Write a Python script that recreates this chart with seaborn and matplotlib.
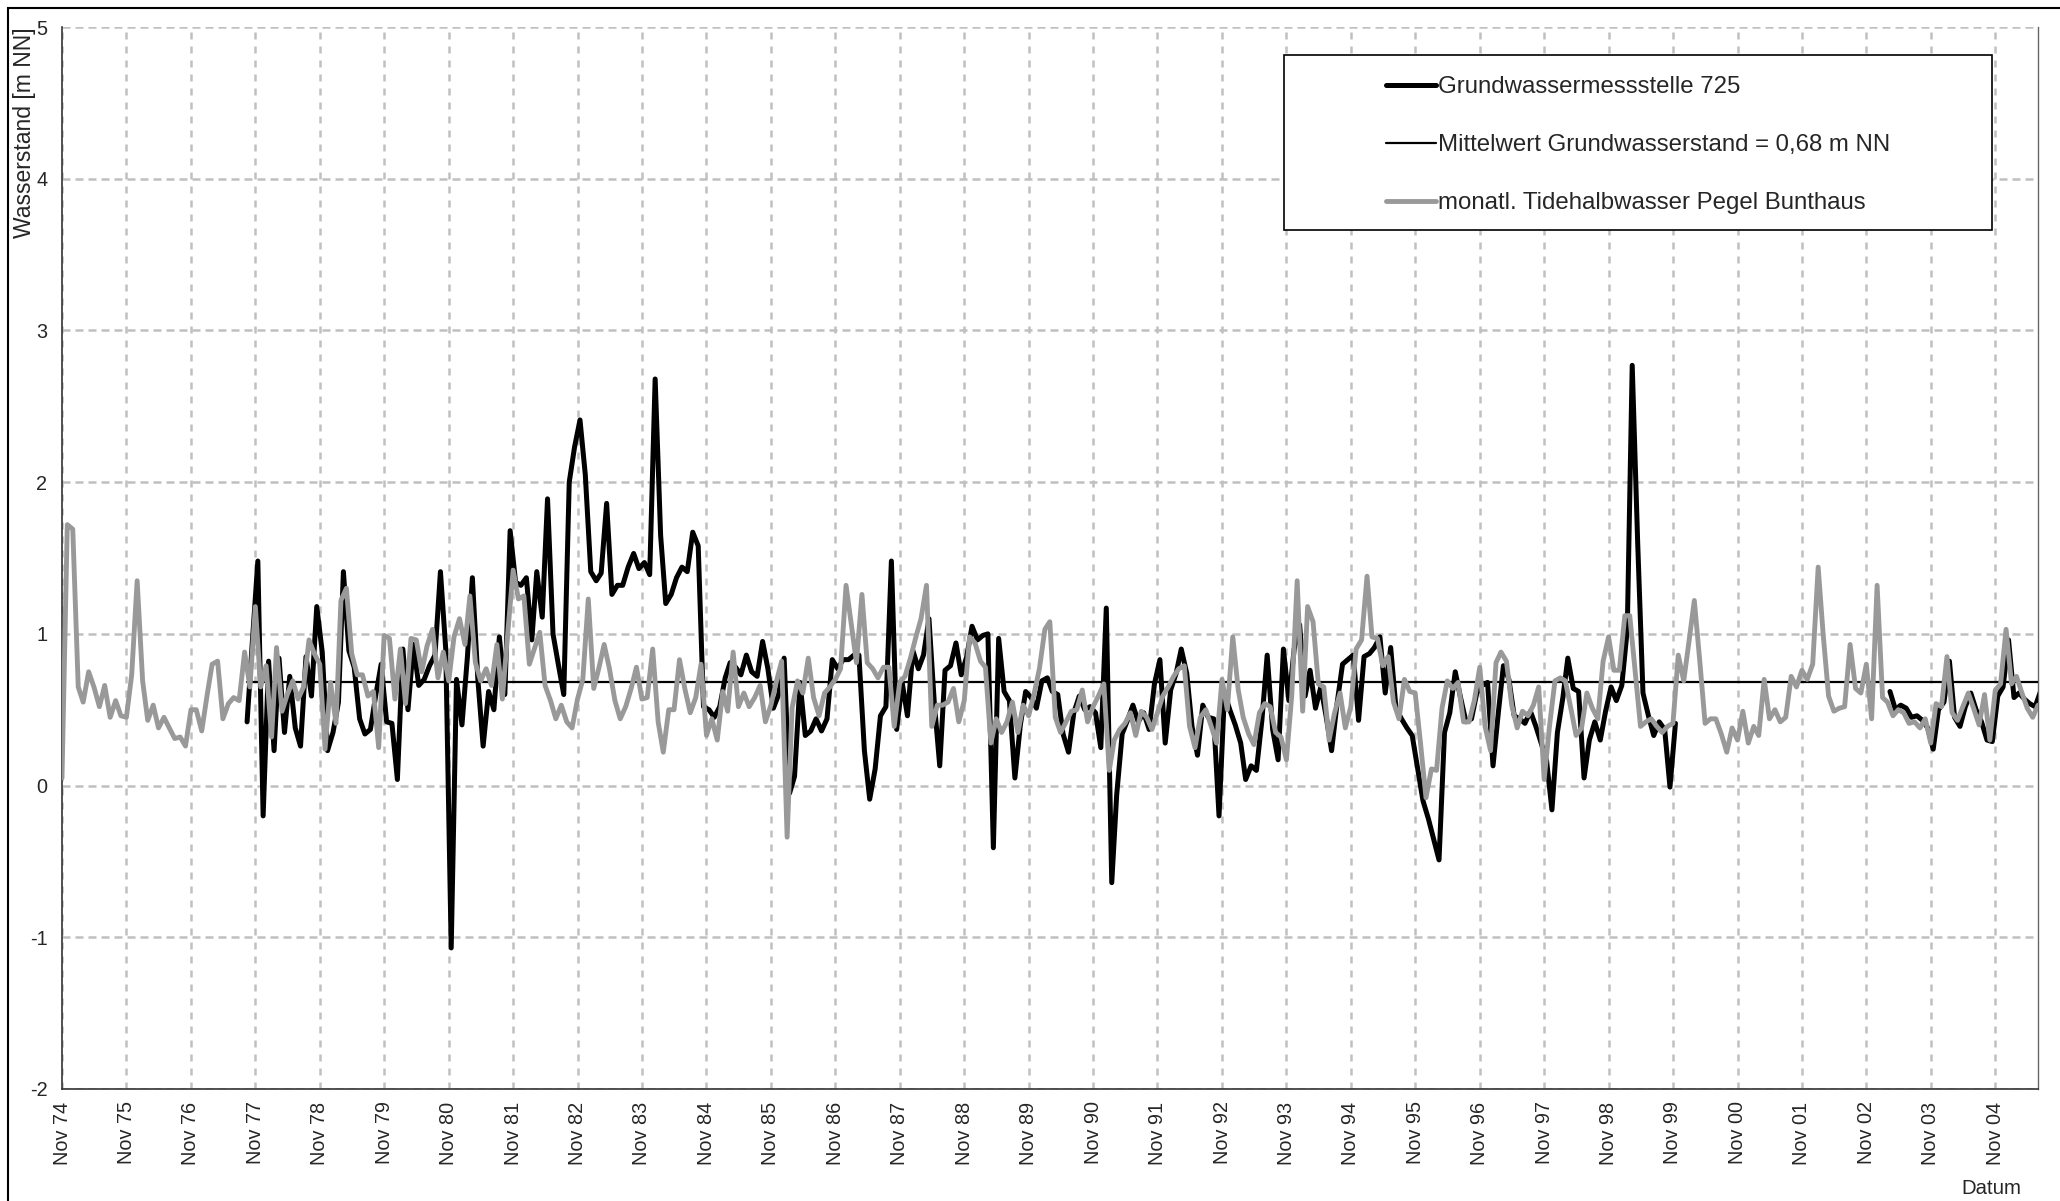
import pandas as pd
import matplotlib
matplotlib.use("Agg")
import matplotlib.pyplot as plt
import matplotlib.dates as mdates
from matplotlib.lines import Line2D
from matplotlib.patches import Rectangle
import seaborn as sns

# monthly tide half-water level Bunthaus, one value per month starting Nov 1974
TIDE_START = "1974-11-01"
tide_values = [
    0.05, 1.72, 1.69, 0.65, 0.55, 0.75, 0.65, 0.52, 0.66, 0.45, 0.56, 0.46,
    0.45, 0.73, 1.35, 0.69, 0.43, 0.53, 0.38, 0.45, 0.38, 0.31, 0.32, 0.26,
    0.50, 0.50, 0.36, 0.60, 0.80, 0.82, 0.44, 0.54, 0.58, 0.56, 0.88, 0.65,
    1.18, 0.65, 0.79, 0.32, 0.91, 0.49, 0.60, 0.69, 0.57, 0.65, 0.96, 0.87,
    0.80, 0.24, 0.68, 0.41, 1.22, 1.30, 0.87, 0.73, 0.73, 0.59, 0.62, 0.25,
    0.99, 0.97, 0.57, 0.90, 0.54, 0.97, 0.96, 0.75, 0.92, 1.03, 0.71, 0.88,
    0.69, 0.98, 1.10, 0.93, 1.25, 0.81, 0.69, 0.77, 0.66, 0.93, 0.57, 1.00,
    1.42, 1.23, 1.25, 0.80, 0.90, 1.01, 0.66, 0.56, 0.44, 0.53, 0.42, 0.38,
    0.57, 0.70, 1.23, 0.64, 0.77, 0.93, 0.77, 0.56, 0.44, 0.52, 0.64, 0.78,
    0.57, 0.58, 0.90, 0.42, 0.22, 0.50, 0.50, 0.83, 0.64, 0.48, 0.58, 0.80,
    0.33, 0.44, 0.30, 0.62, 0.49, 0.88, 0.52, 0.61, 0.52, 0.58, 0.66, 0.42,
    0.53, 0.68, 0.82, -0.34, 0.51, 0.69, 0.61, 0.84, 0.58, 0.46, 0.61, 0.65,
    0.70, 0.77, 1.32, 1.05, 0.81, 1.26, 0.81, 0.77, 0.71, 0.78, 0.78, 0.39,
    0.68, 0.72, 0.84, 0.98, 1.10, 1.32, 0.39, 0.53, 0.53, 0.55, 0.64, 0.42,
    0.56, 0.98, 0.94, 0.82, 0.78, 0.28, 0.44, 0.35, 0.42, 0.55, 0.35, 0.53,
    0.46, 0.60, 0.77, 1.03, 1.08, 0.45, 0.35, 0.42, 0.49, 0.50, 0.63, 0.42,
    0.52, 0.59, 0.67, 0.10, 0.30, 0.37, 0.41, 0.48, 0.33, 0.49, 0.45, 0.37,
    0.48, 0.59, 0.65, 0.72, 0.77, 0.79, 0.39, 0.25, 0.45, 0.50, 0.39, 0.28,
    0.70, 0.50, 0.98, 0.63, 0.45, 0.34, 0.27, 0.48, 0.54, 0.52, 0.35, 0.32,
    0.17, 0.59, 1.35, 0.49, 1.18, 1.08, 0.67, 0.65, 0.30, 0.48, 0.61, 0.38,
    0.52, 0.90, 0.96, 1.38, 0.98, 0.97, 0.79, 0.85, 0.55, 0.44, 0.70, 0.62,
    0.61, 0.28, -0.08, 0.11, 0.10, 0.51, 0.69, 0.64, 0.68, 0.42, 0.42, 0.56,
    0.78, 0.39, 0.23, 0.81, 0.88, 0.82, 0.53, 0.38, 0.49, 0.46, 0.53, 0.65,
    0.04, 0.39, 0.69, 0.71, 0.69, 0.51, 0.33, 0.38, 0.61, 0.51, 0.44, 0.82,
    0.98, 0.76, 0.76, 1.12, 1.12, 0.75, 0.39, 0.42, 0.44, 0.39, 0.35, 0.39,
    0.41, 0.86, 0.69, 0.96, 1.22, 0.82, 0.41, 0.44, 0.44, 0.34, 0.22, 0.38,
    0.30, 0.49, 0.28, 0.39, 0.33, 0.70, 0.44, 0.50, 0.42, 0.45, 0.72, 0.65,
    0.76, 0.70, 0.80, 1.44, 1.00, 0.59, 0.49, 0.51, 0.52, 0.93, 0.64, 0.61,
    0.80, 0.44, 1.32, 0.58, 0.55, 0.46, 0.50, 0.48, 0.41, 0.42, 0.38, 0.44,
    0.28, 0.54, 0.52, 0.85, 0.48, 0.43, 0.52, 0.61, 0.51, 0.40, 0.60, 0.30,
    0.63, 0.67, 1.03, 0.67, 0.72, 0.61, 0.51, 0.45, 0.53,
]

# groundwater gauge 725, mid-month readings, first period Sep 1977 - Nov 1999
GW_START_1 = "1977-09-01"
gw_values_1 = [
    0.42, 0.95,
    1.48, -0.20, 0.82, 0.23, 0.84, 0.35, 0.72, 0.38, 0.26, 0.85, 0.59, 1.18,
    0.88, 0.23, 0.35, 0.55, 1.41, 0.89, 0.78, 0.44, 0.34, 0.37, 0.60, 0.80,
    0.42, 0.41, 0.04, 0.90, 0.50, 0.93, 0.66, 0.70, 0.79, 0.86, 1.41, 0.90,
    -1.07, 0.70, 0.40, 0.85, 1.37, 0.70, 0.26, 0.62, 0.50, 0.98, 0.60, 1.68,
    1.34, 1.32, 1.37, 0.96, 1.41, 1.11, 1.89, 1.00, 0.80, 0.60, 2.00, 2.23,
    2.41, 2.05, 1.41, 1.35, 1.40, 1.86, 1.26, 1.32, 1.32, 1.44, 1.53, 1.43,
    1.47, 1.39, 2.68, 1.65, 1.20, 1.26, 1.37, 1.44, 1.41, 1.67, 1.58, 0.52,
    0.50, 0.45, 0.52, 0.71, 0.81, 0.78, 0.73, 0.86, 0.75, 0.72, 0.95, 0.77,
    0.51, 0.60, 0.84, -0.05, 0.06, 0.68, 0.33, 0.36, 0.44, 0.36, 0.44, 0.83,
    0.77, 0.83, 0.83, 0.86, 0.86, 0.23, -0.09, 0.11, 0.46, 0.52, 1.48, 0.37,
    0.68, 0.46, 0.89, 0.77, 0.86, 1.10, 0.55, 0.13, 0.76, 0.79, 0.94, 0.73,
    0.85, 1.05, 0.96, 0.99, 1.00, -0.41, 0.97, 0.62, 0.56, 0.05, 0.40, 0.62,
    0.58, 0.51, 0.69, 0.71, 0.62, 0.60, 0.34, 0.22, 0.48, 0.59, 0.50, 0.52,
    0.48, 0.25, 1.17, -0.64, -0.06, 0.34, 0.43, 0.53, 0.42, 0.48, 0.37, 0.67,
    0.83, 0.28, 0.63, 0.74, 0.90, 0.74, 0.39, 0.20, 0.53, 0.45, 0.44, -0.20,
    0.61, 0.50, 0.40, 0.28, 0.04, 0.13, 0.10, 0.43, 0.86, 0.37, 0.17, 0.90,
    0.56, 0.90, 1.06, 0.59, 0.76, 0.51, 0.65, 0.45, 0.23, 0.54, 0.80, 0.83,
    0.86, 0.43, 0.85, 0.87, 0.91, 0.98, 0.61, 0.91, 0.51, 0.44, 0.38, 0.33,
    0.11, -0.10, -0.22, -0.36, -0.49, 0.35, 0.48, 0.75, 0.58, 0.42, 0.44, 0.61,
    0.66, 0.68, 0.13, 0.49, 0.79, 0.70, 0.46, 0.44, 0.41, 0.49, 0.39, 0.28,
    0.16, -0.16, 0.35, 0.58, 0.84, 0.64, 0.62, 0.05, 0.30, 0.42, 0.30, 0.49,
    0.65, 0.56, 0.66, 1.03, 2.77, 1.60, 0.61, 0.46, 0.33, 0.42, 0.37, -0.01,
    0.41,
]

# second period Mar 2003 - Jul 2005
GW_START_2 = "2003-03-01"
gw_values_2 = [
    0.62, 0.50, 0.53, 0.51, 0.45, 0.46, 0.43, 0.38, 0.24, 0.50, 0.55, 0.82,
    0.45, 0.39, 0.52, 0.61, 0.50, 0.42, 0.30, 0.29, 0.59, 0.65, 0.96, 0.58,
    0.61, 0.57, 0.54, 0.52, 0.62,
]

GW_MEAN = 0.68
Y_TICKS = list(range(-2, 6))
X_MIN, X_MAX = "1974-11-01", "2005-07-01"

LABEL_GW = "Grundwassermessstelle 725"
LABEL_MEAN = "Mittelwert Grundwasserstand = " + f"{GW_MEAN:.2f}".replace(".", ",") + " m NN"
LABEL_TIDE = "monatl. Tidehalbwasser Pegel Bunthaus"

W, H = 2060, 1201


def monthly(start, values, day_offset=0):
    dates = pd.date_range(start, periods=len(values), freq="MS") + pd.Timedelta(days=day_offset)
    return pd.DataFrame({"Datum": dates, "Wasserstand": values})


tide = monthly(TIDE_START, tide_values)
gw1 = monthly(GW_START_1, gw_values_1, 14)
gw2 = monthly(GW_START_2, gw_values_2, 14)
mean_df = pd.DataFrame({"Datum": [gw1["Datum"].iloc[0], gw2["Datum"].iloc[-1]],
                        "Wasserstand": [GW_MEAN, GW_MEAN]})

sns.set_style("white")
plt.rcParams["font.family"] = ["Liberation Sans", "DejaVu Sans"]
plt.rcParams["axes.unicode_minus"] = False

fig = plt.figure(figsize=(W / 100, H / 100), dpi=100)
ax = fig.add_axes([62 / W, 1 - 1089 / H, (2038 - 62) / W, (1089 - 27) / H])

GREY = "#999999"
for part in (gw1, gw2):
    sns.lineplot(data=part, x="Datum", y="Wasserstand", color="black", lw=3.6,
                 ax=ax, legend=False, zorder=3)
sns.lineplot(data=mean_df, x="Datum", y="Wasserstand", color="black", lw=1.6,
             ax=ax, legend=False, zorder=4)
sns.lineplot(data=tide, x="Datum", y="Wasserstand", color=GREY, lw=3.5,
             ax=ax, legend=False, zorder=5)

ax.set_xlim(pd.Timestamp(X_MIN), pd.Timestamp(X_MAX))
ax.set_ylim(Y_TICKS[0], Y_TICKS[-1])
ax.set_yticks(Y_TICKS)
ax.xaxis.set_major_locator(mdates.YearLocator(base=1, month=11, day=1))
ax.xaxis.set_major_formatter(mdates.DateFormatter("%b %y"))
ax.set_xlabel("")
ax.set_ylabel("")

ax.set_axisbelow(True)
ax.yaxis.grid(True, color="#c0c0c0", lw=1.8, linestyle=(0, (3.2, 2.0)))
ax.xaxis.grid(True, color="#c0c0c0", lw=1.8, linestyle=(0, (2.8, 2.8)))

ax.spines["top"].set_visible(False)
for side in ("left", "bottom"):
    ax.spines[side].set_color("#333333")
    ax.spines[side].set_linewidth(1.2)
ax.spines["right"].set_color("#666666")
ax.spines["right"].set_linewidth(1.0)

ax.tick_params(axis="both", direction="out", length=5, width=1, color="#333333",
               labelsize=14.3)
ax.tick_params(axis="y", pad=5.5)
ax.tick_params(axis="x", pad=4, labelrotation=90)

# legend with its own box
fig.add_artist(Rectangle((1284 / W, 1 - 230 / H), (1992 - 1284) / W, 175 / H,
                         transform=fig.transFigure, facecolor="white",
                         edgecolor="black", lw=1.2, zorder=2))
handles = [Line2D([], [], color="black", lw=3.6),
           Line2D([], [], color="black", lw=1.6),
           Line2D([], [], color=GREY, lw=3.5)]
leg = fig.legend(handles, [LABEL_GW, LABEL_MEAN, LABEL_TIDE], loc="center left",
                 bbox_to_anchor=(1386 / W, 1 - 145 / H), frameon=False,
                 fontsize=17.3, handlelength=2.1, handletextpad=0.05,
                 labelspacing=1.5, borderpad=0, borderaxespad=0)
leg.set_zorder(3)

fig.text(25 / W, 1 - 27 / H, "Wasserstand [m NN]", rotation=90, ha="center",
         va="top", fontsize=16.5)
fig.text(1991 / W, 1 - 1189 / H, "Datum", ha="center", va="center", fontsize=14.7)

# outer chart border (only top and left edge visible in the picture)
fig.add_artist(Rectangle((8 / W, -0.05), 1.1, 1 - 8 / H + 0.05,
                         transform=fig.transFigure, fill=False,
                         edgecolor="black", lw=1.5, zorder=1))

fig.savefig("out.png", dpi=100)
